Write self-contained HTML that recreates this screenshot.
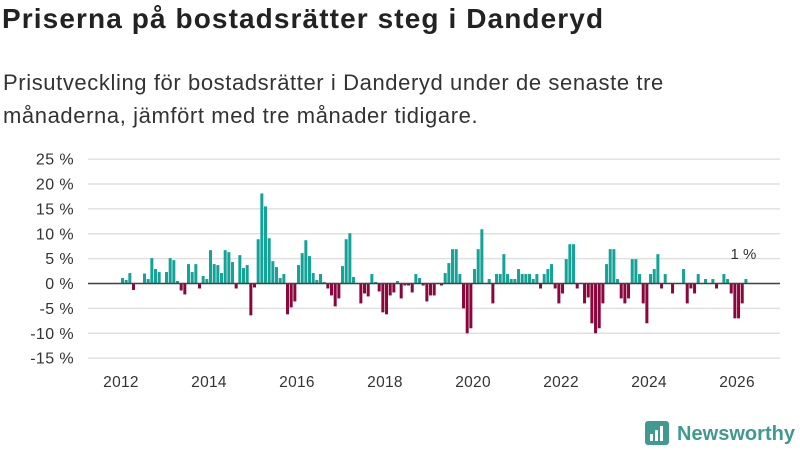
<!DOCTYPE html>
<html><head><meta charset="utf-8"><style>
body{margin:0;width:800px;height:450px;background:#fff;font-family:"Liberation Sans",sans-serif;overflow:hidden;position:relative}
#t{position:absolute;left:2px;top:3px;font-size:28px;letter-spacing:1.1px;font-weight:bold;color:#222}
#s{position:absolute;left:3px;top:66px;font-size:22px;letter-spacing:0.6px;line-height:33px;color:#333;width:720px}
svg{position:absolute;left:0;top:0}
</style></head><body>
<div id="t">Priserna på bostadsrätter steg i Danderyd</div>
<div id="s">Prisutveckling för bostadsrätter i Danderyd under de senaste tre<br>månaderna, jämfört med tre månader tidigare.</div>
<svg id="c" width="800" height="450"></svg>
<script>
const startYear = 2012;
const values = [1.1,0.7,2.1,-1.3,0,0,2,0.9,5.1,2.9,2.3,0,2.3,5.1,4.7,0.5,-1.4,-2.2,3.9,2.3,3.9,-1,1.5,0.9,6.7,3.9,3.7,2.1,6.7,6.3,4.3,-1,5.7,3.1,3.7,-6.4,-0.8,8.9,18.1,15.5,9.1,4.5,3.3,1.1,1.9,-6.2,
-4.8,-3.6,3.7,6.1,8.7,5.5,2.1,0.7,1.9,0.3,-1,-2.4,-4.6,-3,3.5,8.9,10.1,1.3,0,-4,-2,-2.6,1.9,0.3,-1.6,-5.8,-6.2,-2.4,-1.8,0.5,-3,-0.4,-0.4,-1.8,1.9,1.1,-0.4,-3.6,-2.4,-2.4,0,-0.4,2.1,4.1,6.9,6.9,1.9,-5,
-10,-9,2.9,6.9,10.9,0,0.9,-4,1.9,1.9,5.9,1.9,0.9,0.9,2.9,1.9,1.9,1.9,0.9,1.9,-1,1.9,2.9,3.9,-1,-4,-2,4.9,7.9,7.9,-1,0,-4,-2.8,-8,-10,-9,-4,3.9,6.9,6.9,0.9,-3,-4,-3,4.9,4.9,1.9,
-4,-8,1.9,2.9,5.9,-1,1.9,0,-2,0,0,2.9,-4,-1,-2,1.9,0,0.9,0,0.9,-1,0,1.9,0.9,-2,-7,-7,-4,0.9];
const yTicks = [25,20,15,10,5,0,-5,-10,-15];
const xTicks = [2012,2014,2016,2018,2020,2022,2024,2026];
const lastLabel = "1 %";
const svg=document.getElementById('c');const NS='http://www.w3.org/2000/svg';
const y=v=>283.5-v*4.975;
const x=m=>121+m*3.667;
function mk(tag,attrs,txt){const e=document.createElementNS(NS,tag);for(const k in attrs)e.setAttribute(k,attrs[k]);if(txt!==undefined)e.textContent=txt;svg.appendChild(e);return e;}
yTicks.forEach(v=>{
 const g=mk('line',{x1:88,x2:780,y1:y(v),y2:y(v),stroke:'#e0e0e0','stroke-width':1.5});
 
 
 const t=mk('text',{x:74,y:y(v)+5.5,'text-anchor':'end','font-size':16,'letter-spacing':0.4,fill:'#333','font-family':'Liberation Sans, sans-serif'},v+' %');
 
 
});
xTicks.forEach(yr=>{
 const t=mk('text',{x:x((yr-startYear)*12),y:387,'text-anchor':'middle','font-size':15.5,'letter-spacing':0.3,fill:'#333','font-family':'Liberation Sans, sans-serif'},yr);
 
 
});
values.forEach((v,i)=>{
 if(v===0)return;
 const r=mk('rect',{x:x(i),width:3,y:Math.min(y(v),y(0)),height:Math.abs(y(v)-y(0)),fill:v>0?'#13a398':'#8a063d'});
 
 
});
const z=mk('line',{x1:88,x2:780,y1:y(0),y2:y(0),stroke:'#444','stroke-width':1.5});


const li=values.length-1;
const lb=mk('text',{x:x(li)-1,y:y(values[li])-20,'text-anchor':'middle','font-size':15,fill:'#333','font-family':'Liberation Sans, sans-serif'},lastLabel);


const ic=mk('rect',{x:645,y:421,width:24,height:24,rx:3,fill:'#3f9a8f'});


[[650,434],[655,430],[660,426]].forEach(b=>{const r=mk('rect',{x:b[0],y:b[1],width:3,height:441-b[1],fill:'#fff'});});
const lt=mk('text',{x:677,y:440,'font-size':20,'font-weight':'bold',fill:'#3f9a8f','font-family':'Liberation Sans, sans-serif',textLength:118},'Newsworthy');


</script>
</body></html>
